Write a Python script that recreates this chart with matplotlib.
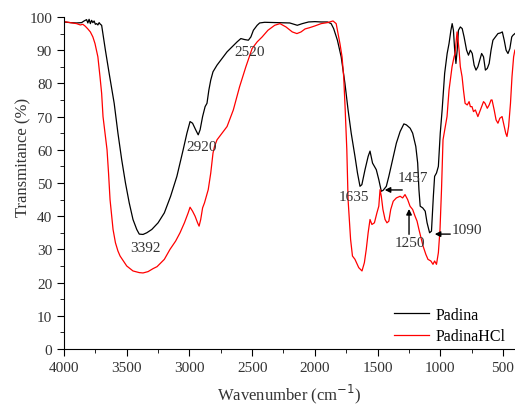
import numpy as np
import matplotlib.pyplot as plt
from matplotlib.ticker import MultipleLocator

plt.rcParams['font.family'] = ['Liberation Serif', 'DejaVu Serif']

# Padina (black)
wn_padina = [4000, 3950, 3900, 3860, 3840, 3820, 3810, 3800, 3790, 3780, 3770, 3760, 3750,
             3740, 3730, 3720, 3710, 3700, 3690, 3670, 3640, 3600, 3570, 3540, 3510, 3480,
             3450, 3420, 3400, 3370, 3340, 3300, 3250, 3200, 3150, 3100, 3050, 3020, 2995,
             2975, 2950, 2930, 2915, 2895, 2875, 2860, 2845, 2830, 2812, 2780, 2740, 2700,
             2660, 2620, 2590, 2560, 2530, 2510, 2490, 2460, 2440, 2400, 2300, 2200, 2140,
             2100, 2050, 2000, 1950, 1900, 1870, 1850, 1820, 1790, 1760, 1735, 1710, 1680,
             1660, 1640, 1625, 1600, 1575, 1560, 1540, 1510, 1490, 1470, 1455, 1430, 1410,
             1380, 1350, 1320, 1290, 1270, 1240, 1220, 1195, 1180, 1170, 1160, 1140, 1120,
             1105, 1085, 1070, 1055, 1045, 1030, 1015, 1000, 985, 965, 945, 930, 915, 905,
             895, 885, 875, 865, 855, 840, 825, 810, 790, 775, 760, 745, 730, 715, 700, 685,
             670, 655, 640, 625, 610, 595, 580, 560, 540, 520, 505, 490, 475, 460, 445, 430,
             420, 405]
t_padina = [98.5, 98.3, 98.2, 98.3, 98.8, 99.2, 98.2, 99.3, 98.0, 99.0, 98.3, 98.8, 97.8,
            98.0, 97.6, 98.3, 97.8, 97.5, 95, 90, 83, 74, 65, 57, 50, 44,
            39, 36, 34.6, 34.5, 35, 36, 38, 41, 46, 52, 60, 65, 68.5,
            68, 66, 64.5, 66, 70, 73, 74, 78, 81, 83.5, 85.5, 87.5, 89.5,
            91, 92.5, 93.5, 93.2, 93, 94, 96, 97.5, 98.2, 98.4, 98.3, 98.2, 97.5,
            98, 98.5, 98.6, 98.5, 98.5, 98, 96.5, 93, 88, 80, 72, 65, 58,
            53, 49, 49.5, 54, 58, 59.6, 56, 54, 51, 47.5, 47.8, 49, 52,
            57, 62, 65.5, 67.8, 67.5, 66.5, 65, 61, 56, 48, 43, 42.5, 41.5,
            38, 35, 35.5, 46, 52, 53, 55, 65, 72, 83, 89, 92, 96, 98,
            96, 90, 86, 90, 96, 97, 96.5, 94, 90, 88.5, 90, 89, 85.5, 84, 85, 87,
            89, 88, 84, 84.5, 86, 90, 93, 94, 95, 95.2, 95.5, 93, 90, 89, 90.5, 94,
            94.5, 95]

# PadinaHCl (red)
wn_hcl = [4000, 3950, 3900, 3870, 3850, 3830, 3810, 3790, 3770, 3753, 3730, 3713, 3700,
          3689, 3670, 3657, 3645, 3633, 3620, 3609, 3590, 3570, 3553, 3500, 3450, 3400,
          3370, 3330, 3290, 3258, 3200, 3155, 3110, 3075, 3040, 3010, 2995, 2975, 2955,
          2935, 2923, 2910, 2895, 2880, 2865, 2850, 2830, 2812, 2800, 2780, 2740, 2700,
          2650, 2600, 2550, 2500, 2460, 2420, 2374, 2320, 2278, 2230, 2180, 2143, 2110,
          2078, 2040, 2000, 1950, 1900, 1855, 1830, 1815, 1800, 1783, 1770, 1759, 1745,
          1735, 1715, 1700, 1680, 1650, 1624, 1605, 1590, 1575, 1560, 1545, 1525, 1505,
          1490, 1480, 1470, 1457, 1440, 1425, 1410, 1395, 1375, 1350, 1320, 1300, 1281,
          1260, 1241, 1220, 1201, 1185, 1170, 1150, 1137, 1115, 1098, 1075, 1058, 1045,
          1030, 1015, 1002, 990, 978, 960, 946, 930, 906, 890, 882, 872, 866, 858, 850,
          840, 826, 815, 802, 785, 770, 760, 747, 735, 720, 700, 685, 670, 655, 643, 625,
          610, 595, 587, 570, 555, 540, 525, 507, 490, 478, 468, 455, 440, 428, 415, 405]
t_hcl = [98.6, 98.3, 98.0, 97.6, 97.8, 97.2, 96.4, 95.5, 94, 92, 88, 82, 77,
         70, 64, 60, 53, 45, 40, 36, 32, 29.5, 28, 25, 23.5, 23,
         22.9, 23.3, 24.2, 24.8, 27, 30, 32.5, 35, 38, 41, 42.7, 41.5, 40,
         38, 37, 39, 42.5, 44, 46, 48, 53, 59, 61, 63, 65, 67,
         72, 79, 85, 90.5, 92.5, 94, 96, 97.5, 98, 97, 95.5, 95, 95.5,
         96.4, 96.8, 97.3, 98, 98.3, 98.8, 98, 95, 92, 88, 82, 73, 60,
         45, 33, 28, 27, 24.5, 23.5, 26, 30, 35, 39, 37.5, 38, 41,
         43, 48, 46, 42, 39, 38, 38.5, 42, 44.5, 45.5, 46, 45.5, 46.5,
         45, 43, 42, 40, 38.5, 36, 33, 31, 28.5, 27, 26.5, 25.5, 26.5,
         25.5, 29, 36, 48, 63, 67, 70, 78, 85, 88, 89, 93, 95.5, 93, 90,
         85, 82, 78, 74, 73.5, 74.5, 73, 73, 71.5, 72, 70, 71.5, 73, 74.5, 74, 72.5,
         73.5, 75, 75, 72, 69, 68, 69.5, 70, 67, 65, 64, 67, 74, 82, 88, 90]

peak_labels = ['3392', '2920', '2520', '1635', '1457', '1250', '1090']
label_x = [3350, 2900, 2517, 1688, 1217, 1241, 787]
label_y = [30.7, 61, 89.5, 46, 51.5, 32, 36]

fig = plt.figure(figsize=(5.15, 4.06), dpi=100)
ax = fig.add_axes([0.1243, 0.138, 0.8757, 0.8177])

ax.plot(wn_padina, t_padina, color='black', lw=0.9, label='Padina')
ax.plot(wn_hcl, t_hcl, color='red', lw=0.9, label='PadinaHCl')

txt = '#333333'
for s, x, y in zip(peak_labels, label_x, label_y):
    ax.text(x, y, s, ha='center', va='center', fontsize=11, color=txt)

arw = dict(arrowstyle='-|>', color='black', lw=1, mutation_scale=8)
ax.annotate('', xy=(1465, 47.9), xytext=(1281, 47.9), arrowprops=arw)
ax.annotate('', xy=(1249, 43), xytext=(1249, 33.7), arrowprops=arw)
ax.annotate('', xy=(1066, 34.6), xytext=(898, 34.6), arrowprops=arw)

ax.set_xlim(4000, 404)
ax.set_ylim(0, 100)
ax.xaxis.set_major_locator(MultipleLocator(500))
ax.xaxis.set_minor_locator(MultipleLocator(250))
ax.yaxis.set_major_locator(MultipleLocator(10))
ax.yaxis.set_minor_locator(MultipleLocator(5))
ax.tick_params(which='both', direction='out', labelsize=11, labelcolor=txt)
ax.tick_params(which='major', length=5)
ax.tick_params(which='minor', length=3)
ax.spines['top'].set_visible(False)
ax.spines['right'].set_visible(False)

ax.set_xlabel('Wavenumber (cm$^{-1}$)', fontsize=12, color=txt)
ax.set_ylabel('Transmitance (%)', fontsize=12, color=txt)
ax.yaxis.set_label_coords(-0.072, 0.58)
ax.xaxis.set_label_coords(0.5, -0.1)

ax.legend(loc='lower right', bbox_to_anchor=(1.0, -0.015), frameon=False, fontsize=11.5,
          handlelength=2.2, handletextpad=0.4, labelspacing=0.35, borderaxespad=0.2)

fig.savefig('out.png', dpi=100)
